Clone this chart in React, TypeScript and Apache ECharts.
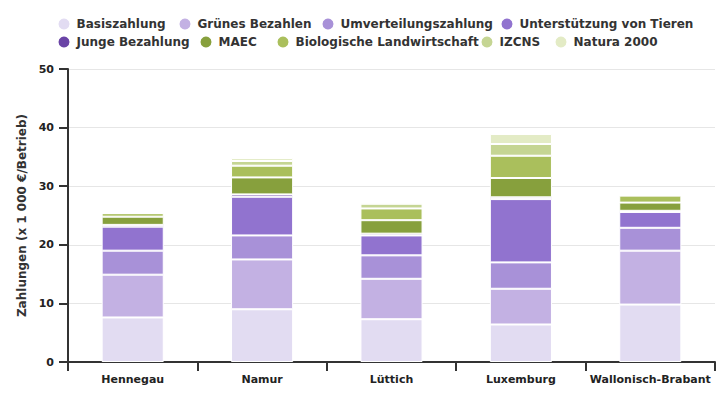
import React, { useEffect, useRef } from "react";
import * as echarts from "echarts";

const categories = ["Hennegau", "Namur", "Lüttich", "Luxemburg", "Wallonisch-Brabant"];
const seriesNames = [
  "Basiszahlung",
  "Grünes Bezahlen",
  "Umverteilungszahlung",
  "Unterstützung von Tieren",
  "Junge Bezahlung",
  "MAEC",
  "Biologische Landwirtschaft",
  "IZCNS",
  "Natura 2000",
];
const basiszahlung = [7.6, 9.0, 7.3, 6.4, 9.8];
const gruenesBezahlen = [7.3, 8.5, 6.9, 6.1, 9.2];
const umverteilung = [4.1, 4.1, 4.0, 4.5, 3.9];
const tieren = [4.1, 6.6, 3.4, 10.8, 2.7];
const jungeBezahlung = [0.3, 0.4, 0.3, 0.3, 0.2];
const maec = [1.4, 2.9, 2.3, 3.3, 1.4];
const bio = [0.6, 2.0, 2.0, 3.8, 1.2];
const izcns = [0, 0.8, 0.8, 2.0, 0];
const natura2000 = [0, 0.5, 0.3, 1.7, 0];
const yTicks = [0, 10, 20, 30, 40, 50];

const seriesData = [basiszahlung, gruenesBezahlen, umverteilung, tieren, jungeBezahlung, maec, bio, izcns, natura2000];
const colors = ["#e2dcf2", "#c3b1e3", "#a891d8", "#9173cf", "#6a44a6", "#87a03d", "#aabf5c", "#c5d593", "#e3ebc5"];

// legend symbol centres (layout)
const legendPos = [
  [64, 23], [185, 23], [328, 23], [507, 23],
  [64, 41], [206, 41], [283, 41], [487, 41], [561, 41],
];

const FONT = "DejaVu Sans";

export default function App() {
  const ref = useRef<HTMLDivElement>(null);
  useEffect(() => {
    if (!ref.current) return;
    const chart = echarts.init(ref.current, null, { renderer: "svg" });
    chart.setOption({
      animation: false,
      color: colors,
      textStyle: { fontFamily: FONT },
      legend: seriesNames.map((n, i) => ({
        data: [n],
        left: legendPos[i][0] - 7.5,
        top: legendPos[i][1] - 6.5,
        padding: 0,
        icon: "circle",
        itemWidth: 15,
        itemHeight: 13,
        selectedMode: false,
        textStyle: { fontFamily: FONT, fontWeight: "bold", fontSize: 12, color: "#333" },
      })),
      grid: { left: 68, right: 10, top: 69, bottom: 38, containLabel: false },
      xAxis: {
        type: "category",
        data: categories,
        axisLine: { lineStyle: { color: "#333", width: 2 } },
        axisTick: { show: true, interval: 0, length: 9, lineStyle: { color: "#333", width: 2 } },
        axisLabel: { interval: 0, fontFamily: FONT, fontWeight: "bold", fontSize: 11, color: "#222", margin: 12 },
      },
      yAxis: {
        type: "value",
        min: yTicks[0],
        max: yTicks[yTicks.length - 1],
        interval: 10,
        name: "Zahlungen (x 1 000 €/Betrieb)",
        nameLocation: "middle",
        nameGap: 40,
        nameTextStyle: { fontFamily: FONT, fontWeight: "bold", fontSize: 12, color: "#333" },
        axisLine: { show: true, lineStyle: { color: "#333", width: 2 } },
        axisTick: { show: true, length: 9, lineStyle: { color: "#333", width: 2 } },
        axisLabel: { fontFamily: FONT, fontWeight: "bold", fontSize: 11, color: "#222", margin: 14 },
        splitLine: { lineStyle: { color: "#e6e6e6", width: 1 } },
      },
      series: seriesNames.map((n, i) => ({
        name: n,
        type: "bar",
        stack: "total",
        barWidth: "48%",
        data: seriesData[i],
        itemStyle: { color: colors[i], borderColor: "#fff", borderWidth: 1 },
      })),
    });
    return () => chart.dispose();
  }, []);
  return <div ref={ref} style={{ width: 725, height: 400, position: "absolute", left: 0, top: 0 }} />;
}
